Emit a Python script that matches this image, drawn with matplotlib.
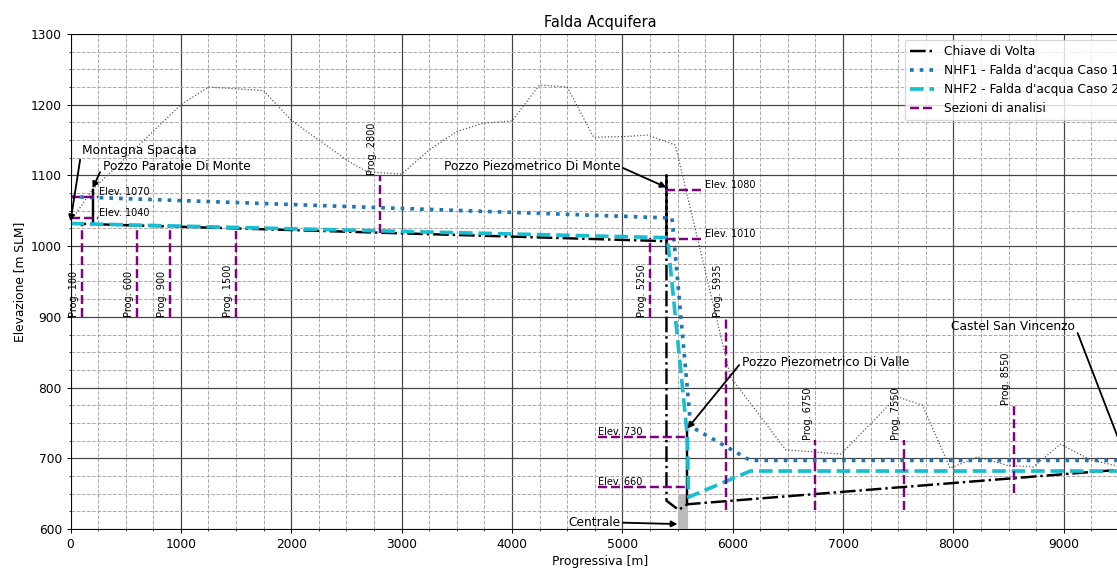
import numpy as np
import matplotlib
matplotlib.use('Agg')
import matplotlib.pyplot as plt
from matplotlib.patches import Rectangle
from matplotlib.ticker import MultipleLocator

# terreno (profilo topografico)
terr_x = [0, 200, 1000, 1250, 1750, 2000, 2250, 2530, 2690, 3000, 3250, 3500, 3740, 4000,
          4250, 4500, 4740, 5030, 5230, 5480, 5980, 6480, 6980, 7490, 7720, 7970, 8220,
          8490, 8725, 8970, 9240, 9600]
terr_y = [1035, 1080, 1200, 1225, 1220, 1178, 1150, 1119, 1105, 1102, 1136, 1162, 1174, 1177,
          1228, 1225, 1154, 1155, 1157, 1143, 815, 712, 706, 787, 775, 686, 702,
          690, 688, 720, 698, 685]

# chiave di volta galleria
cv_x = [0, 5400, 5400, 5400, 5510, 5590, 9600]
cv_y = [1032, 1007, 1100, 640, 627, 635, 685]

# falde
nhf1_x = [0, 5400, 5450, 5620, 6160, 9600]
nhf1_y = [1070, 1040, 1040, 745, 697, 697]
nhf2_x = [0, 5400, 5410, 5590, 5600, 6160, 9600]
nhf2_y = [1032, 1012, 1010, 730, 645, 682, 682]

# pozzi
pozzi_x = [200, 5590]
pozzi_y0 = [1032, 635]
pozzi_y1 = [1080, 740]

# sezioni di analisi
sez_prog = [100, 600, 900, 1500, 2800, 5250, 5935, 6750, 7550, 8550]
sez_y0 = [900, 900, 900, 900, 1018, 900, 627, 627, 627, 651]
sez_y1 = [1030, 1027, 1025, 1022, 1100, 1011, 900, 726, 726, 775]
sez_lab_y = [900, 900, 900, 900, 1100, 900, 900, 726, 726, 775]

# quote di riferimento
elev_val = [1070, 1040, 1080, 1010, 730, 660]
elev_x0 = [0, 0, 5400, 5400, 4780, 4780]
elev_x1 = [250, 250, 5740, 5740, 5590, 5590]
elev_tx = [255, 255, 5745, 5745, 4780, 4780]

# centrale
centrale_x, centrale_w = 5500, 90
centrale_y, centrale_h = 600, 50

annot = [
    ("Montagna Spacata", (0, 1035), (100, 1135), 'left', 0),
    ("Pozzo Paratoie Di Monte", (200, 1082), (290, 1112), 'left', 0),
    ("Pozzo Piezometrico Di Monte", (5400, 1083), (4985, 1112), 'right', 1),
    ("Pozzo Piezometrico Di Valle", (5590, 742), (6080, 836), 'left', 0),
    ("Castel San Vincenzo", (9600, 685), (7980, 886), 'left', 1),
    ("Centrale", (5500, 607), (4985, 609), 'right', 1),
]

dpi = 88
fig = plt.figure(figsize=(1117 / dpi, 570 / dpi), dpi=dpi)
ax = fig.add_axes([70.5 / 1117, 1 - 529 / 570, (1130 - 70.5) / 1117, (529 - 34) / 570])

ax.plot(terr_x, terr_y, ':', color='#555555', lw=1)
ax.plot(cv_x, cv_y, 'k-.', lw=2, label='Chiave di Volta')
for x, y0, y1 in zip(pozzi_x, pozzi_y0, pozzi_y1):
    ax.plot([x, x], [y0, y1], 'k-', lw=2)
ax.plot(nhf1_x, nhf1_y, ':', color='tab:blue', lw=3, label="NHF1 - Falda d'acqua Caso 1")
ax.plot(nhf2_x, nhf2_y, '--', color='tab:cyan', lw=3, label="NHF2 - Falda d'acqua Caso 2")

for i, (p, y0, y1, yl) in enumerate(zip(sez_prog, sez_y0, sez_y1, sez_lab_y)):
    ax.plot([p, p], [y0, y1], '--', color='purple', lw=2,
            label='Sezioni di analisi' if i == 0 else None)
    ax.text(p - 25, yl, f'Prog. {p}', rotation=90, ha='right', va='bottom', fontsize=8)

for v, x0, x1, tx in zip(elev_val, elev_x0, elev_x1, elev_tx):
    ax.plot([x0, x1], [v, v], '--', color='purple', lw=2)
    ax.text(tx, v, f'Elev. {v}', ha='left', va='bottom', fontsize=8)

ax.add_patch(Rectangle((centrale_x, centrale_y), centrale_w, centrale_h,
                       color='#bbbbbb', zorder=1))

for txt, xy, xyt, ha, rx in annot:
    ax.annotate(txt, xy=xy, xytext=xyt, ha=ha, va='center', fontsize=10,
                annotation_clip=False,
                arrowprops=dict(arrowstyle='-|>', color='black', lw=1.5,
                                relpos=(rx, 0.5), shrinkA=0, shrinkB=0))

ax.set_xlim(0, 9600)
ax.set_ylim(600, 1300)
ax.xaxis.set_major_locator(MultipleLocator(1000))
ax.xaxis.set_minor_locator(MultipleLocator(250))
ax.yaxis.set_major_locator(MultipleLocator(100))
ax.yaxis.set_minor_locator(MultipleLocator(25))
ax.grid(which='major', color='#444444', linestyle='-', lw=1)
ax.grid(which='minor', color='#aaaaaa', linestyle='--', lw=0.8)
ax.set_axisbelow(True)

ax.set_title('Falda Acquifera', fontsize=12)
ax.set_xlabel('Progressiva [m]')
ax.set_ylabel('Elevazione [m SLM]')
ax.legend(loc='upper right')

fig.savefig('out.png', dpi=dpi)
